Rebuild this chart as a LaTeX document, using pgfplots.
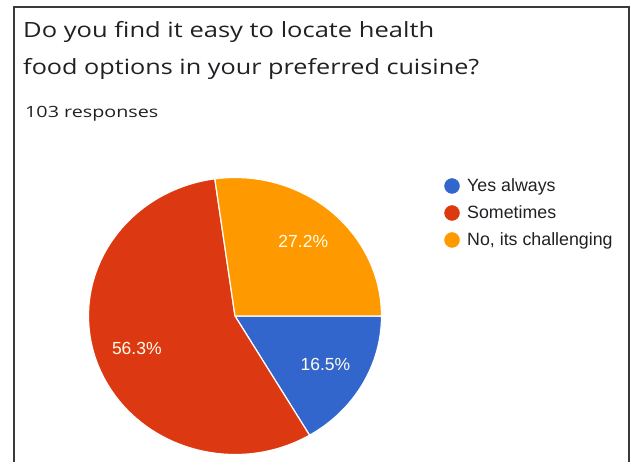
\documentclass[border=0pt]{standalone}
\usepackage{pgfplots}
\pgfplotsset{compat=1.18}
\usepackage{graphicx}
\usepackage{fontspec}
\setmainfont{Liberation Sans}
\newfontfamily\titlefont{Open Sans}
\definecolor{gblue}{HTML}{3366CC}
\definecolor{gred}{HTML}{DC3912}
\definecolor{gorange}{HTML}{FF9900}
\definecolor{txt}{HTML}{202124}
\definecolor{framegray}{HTML}{3A3A3A}

\begin{document}
\begin{tikzpicture}
\begin{axis}[
    x=1pt, y=1pt,
    xmin=0, xmax=631, ymin=0, ymax=462,
    hide axis, clip=false,
]
\path (axis cs:0,0) rectangle (axis cs:631,462);
% screenshot frame
\draw[framegray, line width=1.6pt] (axis cs:14,0) -- (axis cs:14,455) -- (axis cs:629,455) -- (axis cs:629,0);

% title and subtitle
\node[anchor=base west, inner sep=0pt, txt] at (axis cs:23,424)
    {\resizebox{411pt}{\height}{\titlefont\fontsize{21}{21}\selectfont Do you find it easy to locate health}};
\node[anchor=base west, inner sep=0pt, txt] at (axis cs:23,387)
    {\resizebox{456pt}{\height}{\titlefont\fontsize{21}{21}\selectfont food options in your preferred cuisine?}};
\node[anchor=base west, inner sep=0pt, txt] at (axis cs:25,344)
    {\resizebox{133pt}{\height}{\titlefont\fontsize{15.5}{15.5}\selectfont 103 responses}};

% legend
\addplot[only marks, mark=*, mark size=7.5pt, color=gblue] coordinates {(452,276)};
\addplot[only marks, mark=*, mark size=7.5pt, color=gred] coordinates {(452,249)};
\addplot[only marks, mark=*, mark size=7.5pt, color=gorange] coordinates {(452,222)};
\node[anchor=base west, inner sep=0pt, txt, font=\fontsize{17.8}{17.8}\selectfont] at (axis cs:467,270) {Yes always};
\node[anchor=base west, inner sep=0pt, txt, font=\fontsize{17.8}{17.8}\selectfont] at (axis cs:467,243) {Sometimes};
\node[anchor=base west, inner sep=0pt, txt, font=\fontsize{17.8}{17.8}\selectfont] at (axis cs:467,216) {No, its challenging};

% pie: slices clockwise from 3 o'clock
\pgfplotsextra{
  \gdef\startang{0}
  \foreach \v/\c in {16.5/gblue, 56.3/gred, 27.2/gorange}{
    \pgfmathsetmacro\endang{\startang-3.6*\v}
    \pgfmathsetmacro\midang{(\startang+\endang)/2}
    \pgfmathsetmacro\sx{235+146.5*cos(\startang)}
    \pgfmathsetmacro\sy{146+138.5*sin(\startang)}
    \pgfmathsetmacro\lx{235+0.71*146.5*cos(\midang)}
    \pgfmathsetmacro\ly{146+0.71*138.5*sin(\midang)}
    \filldraw[fill=\c, draw=white, line width=1.2pt, line join=round]
      (axis cs:235,146) -- (axis cs:\sx,\sy)
      arc[start angle=\startang, end angle=\endang, x radius=146.5pt, y radius=138.5pt] -- cycle;
    \node[white!92!yellow, inner sep=0pt, font=\fontsize{17.5}{17.5}\selectfont]
      at (axis cs:\lx,\ly) {\v\%};
    \xdef\startang{\endang}
  }
}
\end{axis}
\end{tikzpicture}
\end{document}
